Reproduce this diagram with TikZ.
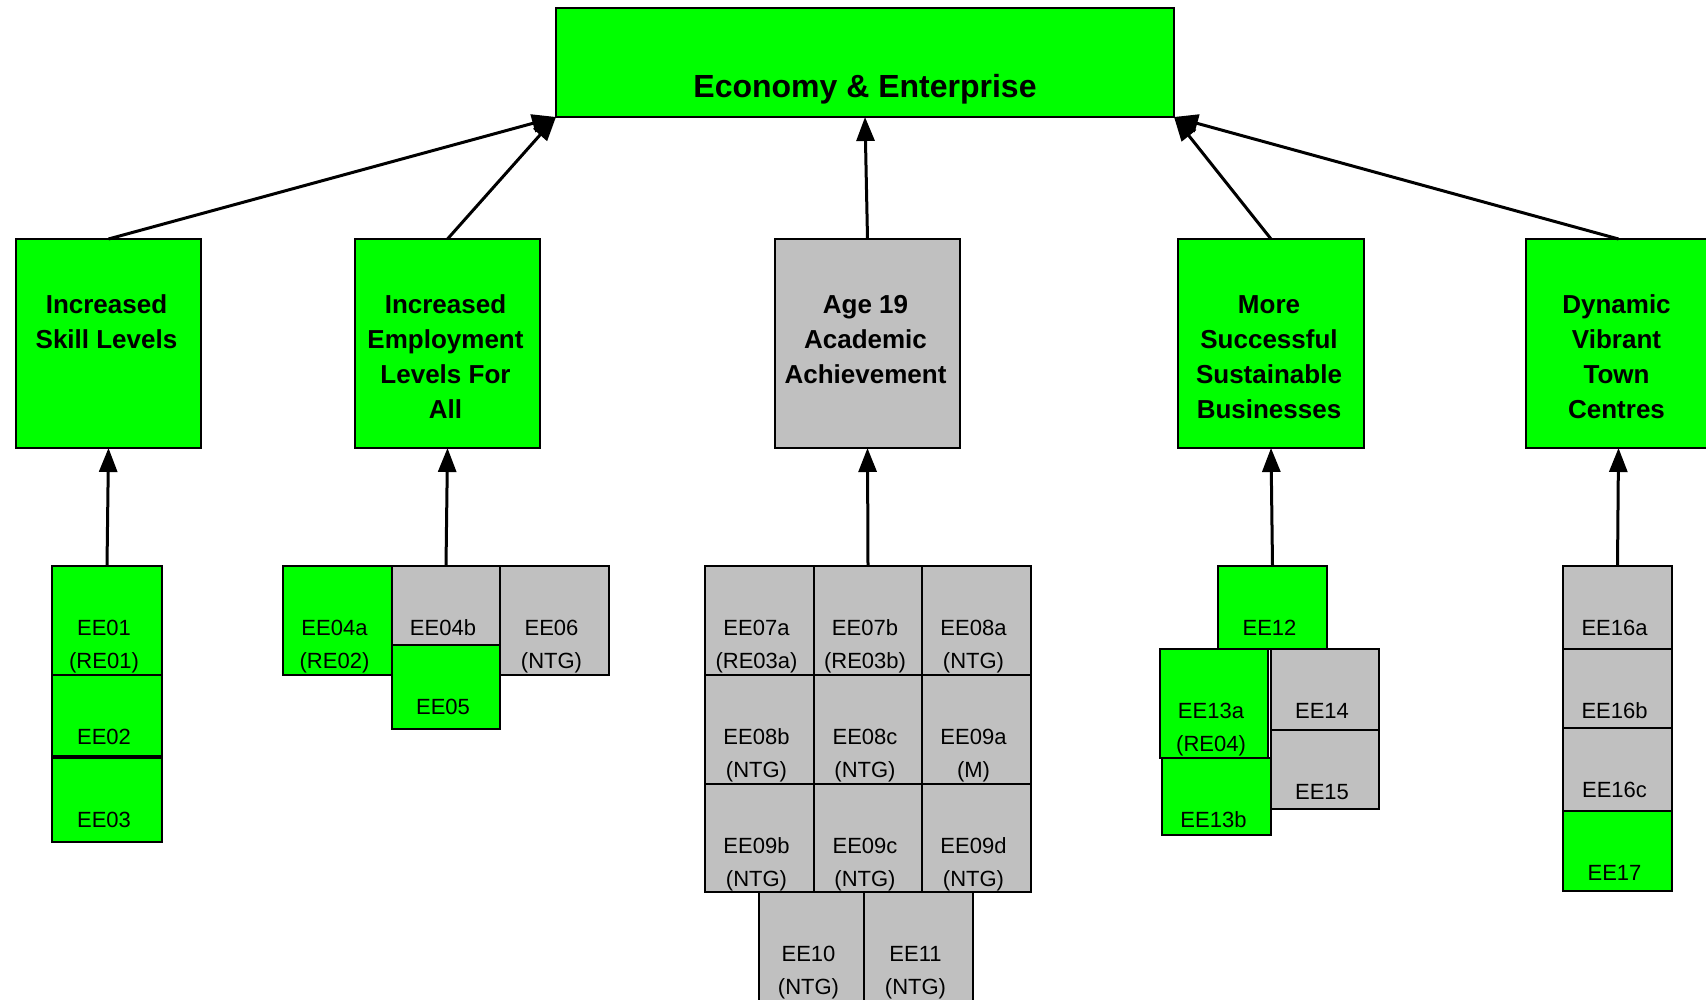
\documentclass[tikz,border=0pt]{standalone}
\usepackage{fontspec}
\setmainfont{Liberation Sans}
\usetikzlibrary{arrows.meta}
\definecolor{eegreen}{HTML}{00FF00}
\definecolor{eegray}{HTML}{C0C0C0}
\tikzset{
  boxg/.style={draw=black, line width=1pt, fill=eegreen, inner sep=0pt, outer sep=0pt},
  boxs/.style={draw=black, line width=1pt, fill=eegray, inner sep=0pt, outer sep=0pt},
  clbl/.style={anchor=base, inner sep=0pt, font=\fontsize{11}{16.5}\selectfont},
  plbl/.style={anchor=base, inner sep=0pt, font=\bfseries\fontsize{13}{17.5}\selectfont},
  arr/.style={line width=1.5pt, -{Triangle[length=12pt,width=9pt]}}
}
% name, x1, y1, x2, y2, style, text (pixel coordinates, y downwards)
\newcommand\cbx[7]{%
  \node[#6, minimum width={((#4)-(#2))*0.5pt}, minimum height={((#5)-(#3))*0.5pt}] (#1) at ({((#2)+(#4))/2},{((#3)+(#5))/2}) {};
  \node[clbl] (#1t) at ({((#2)+(#4))/2-3},{(#3)+69}) {\begin{tabular}[t]{@{}c@{}}#7\end{tabular}};
}
\newcommand\pbx[7]{%
  \node[#6, minimum width={((#4)-(#2))*0.5pt}, minimum height={((#5)-(#3))*0.5pt}] (#1) at ({((#2)+(#4))/2},{((#3)+(#5))/2}) {};
  \node[plbl] (#1t) at ({((#2)+(#4))/2-2},{(#3)+74}) {\begin{tabular}[t]{@{}c@{}}#7\end{tabular}};
}
\begin{document}
\begin{tikzpicture}[x=0.5pt, y=-0.5pt]
\fill[white] (0,0) rectangle (1706,1000);
\useasboundingbox (0,0) rectangle (1706,1000);

% top box
\node[boxg, minimum width=309pt, minimum height=54.5pt] (top) at (865,62.5) {};
\node[anchor=base, inner sep=0pt, font=\bfseries\fontsize{16}{19}\selectfont] (topt) at (865,98) {Economy \& Enterprise};

% second level
\pbx{skill}{16}{239}{201}{448}{boxg}{Increased\\Skill Levels}
\pbx{emp}{355}{239}{540}{448}{boxg}{Increased\\Employment\\Levels For\\All}
\pbx{age}{775}{239}{960}{448}{boxs}{Age 19\\Academic\\Achievement}
\pbx{more}{1178}{239}{1364}{448}{boxg}{More\\Successful\\Sustainable\\Businesses}
\pbx{dyn}{1526}{239}{1711}{448}{boxg}{Dynamic\\Vibrant\\Town\\Centres}

% skill children
\cbx{ee01}{52}{566}{162}{675}{boxg}{EE01\\(RE01)}
\cbx{ee02}{52}{675}{162}{756}{boxg}{EE02}
\cbx{ee03}{52}{758}{162}{842}{boxg}{EE03}

% employment children
\cbx{ee04a}{283}{566}{392}{675}{boxg}{EE04a\\(RE02)}
\cbx{ee04b}{392}{566}{500}{645}{boxs}{EE04b}
\cbx{ee05}{392}{645}{500}{729}{boxg}{EE05}
\cbx{ee06}{500}{566}{609}{675}{boxs}{EE06\\(NTG)}

% age children
\cbx{ee07a}{705}{566}{814}{675}{boxs}{EE07a\\(RE03a)}
\cbx{ee07b}{814}{566}{922}{675}{boxs}{EE07b\\(RE03b)}
\cbx{ee08a}{922}{566}{1031}{675}{boxs}{EE08a\\(NTG)}
\cbx{ee08b}{705}{675}{814}{784}{boxs}{EE08b\\(NTG)}
\cbx{ee08c}{814}{675}{922}{784}{boxs}{EE08c\\(NTG)}
\cbx{ee09a}{922}{675}{1031}{784}{boxs}{EE09a\\(M)}
\cbx{ee09b}{705}{784}{814}{892}{boxs}{EE09b\\(NTG)}
\cbx{ee09c}{814}{784}{922}{892}{boxs}{EE09c\\(NTG)}
\cbx{ee09d}{922}{784}{1031}{892}{boxs}{EE09d\\(NTG)}
\cbx{ee10}{759}{892}{864}{1002}{boxs}{EE10\\(NTG)}
\cbx{ee11}{864}{892}{973}{1002}{boxs}{EE11\\(NTG)}

% business children
\cbx{ee12}{1218}{566}{1327}{649}{boxg}{EE12}
\cbx{ee14}{1271}{649}{1379}{730}{boxs}{EE14}
\cbx{ee15}{1271}{730}{1379}{809}{boxs}{EE15}
\cbx{ee13a}{1160}{649}{1268}{758}{boxg}{EE13a\\(RE04)}
\cbx{ee13b}{1162}{758}{1271}{835}{boxg}{EE13b}

% town centre children
\cbx{ee16a}{1563}{566}{1672}{649}{boxs}{EE16a}
\cbx{ee16b}{1563}{649}{1672}{728}{boxs}{EE16b}
\cbx{ee16c}{1563}{728}{1672}{811}{boxs}{EE16c}
\cbx{ee17}{1563}{811}{1672}{891}{boxg}{EE17}

% connectors
\draw[arr] (skill.north) -- (top.south west);
\draw[arr] (emp.north) -- (top.south west);
\draw[arr] (age.north) -- (top.south);
\draw[arr] (more.north) -- (top.south east);
\draw[arr] (dyn.north) -- (top.south east);
\draw[arr] (ee01.north) -- (skill.south);
\draw[arr] (ee04b.north) -- (emp.south);
\draw[arr] (ee07b.north) -- (age.south);
\draw[arr] (ee12.north) -- (more.south);
\draw[arr] (ee16a.north) -- (dyn.south);
\end{tikzpicture}
\end{document}
